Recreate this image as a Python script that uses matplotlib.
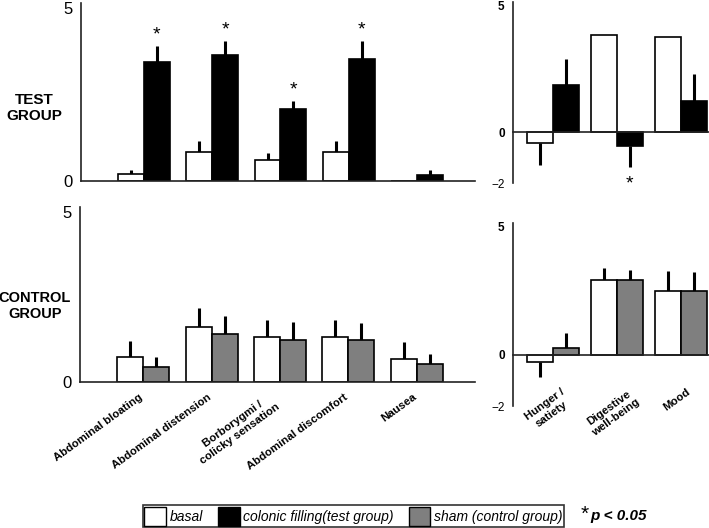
import numpy as np
import matplotlib
matplotlib.use('Agg')
import matplotlib.pyplot as plt
from matplotlib.patches import Patch

plt.rcParams['font.family'] = ['Liberation Sans', 'DejaVu Sans']

# symptom categories (left panels) and wellbeing items (right panels)
symptoms = ['Abdominal bloating', 'Abdominal distension', 'Borborygmi /\ncolicky sensation',
            'Abdominal discomfort', 'Nausea']
feelings = ['Hunger /\nsatiety', 'Digestive\nwell-being', 'Mood']

# test group
test_basal = [0.20, 0.85, 0.62, 0.85, 0.0]
test_basal_err = [0.12, 0.31, 0.18, 0.31, 0.0]
test_filling = [3.45, 3.65, 2.08, 3.52, 0.17]
test_filling_err = [0.46, 0.40, 0.23, 0.52, 0.15]
test_sig = [True, True, True, True, False]

test_feel_basal = [-0.44, 3.85, 3.77]
test_feel_basal_err = [0.86, 0.0, 0.0]
test_feel_filling = [1.85, -0.55, 1.25]
test_feel_filling_err = [1.02, 0.82, 1.05]
test_feel_sig = [False, True, False]

# control group
ctrl_basal = [0.72, 1.62, 1.31, 1.31, 0.66]
ctrl_basal_err = [0.48, 0.54, 0.52, 0.52, 0.52]
ctrl_sham = [0.43, 1.41, 1.23, 1.23, 0.51]
ctrl_sham_err = [0.29, 0.53, 0.53, 0.50, 0.31]

ctrl_feel_basal = [-0.29, 2.93, 2.51]
ctrl_feel_basal_err = [0.58, 0.46, 0.77]
ctrl_feel_sham = [0.29, 2.93, 2.51]
ctrl_feel_sham_err = [0.56, 0.39, 0.74]

GRAY = '#7f7f7f'
W, H = 709, 528
fig = plt.figure(figsize=(W / 100, H / 100), dpi=100)


def px_axes(l, t, r, b):
    return fig.add_axes([l / W, 1 - b / H, (r - l) / W, (b - t) / H])


def style(ax, ymin, xlim, right=False):
    ax.set_ylim(ymin, 5.15)
    ax.set_xlim(*xlim)
    for s in ['top', 'right']:
        ax.spines[s].set_visible(False)
    ax.spines['left'].set_linewidth(1.2)
    ax.spines['left'].set_color('#222222')
    ax.spines['bottom'].set_linewidth(1.2)
    ax.spines['bottom'].set_color('#222222')
    ax.spines['bottom'].set_position(('data', 0))
    ax.set_xticks([])
    if right:
        ax.set_yticks([-2, 0, 5])
        ax.tick_params(axis='y', length=0, pad=6, labelsize=8.5)
        labs = ax.get_yticklabels()
        labs[1].set_fontweight('bold')
        labs[2].set_fontweight('bold')
    else:
        ax.set_yticks([0, 5])
        ax.tick_params(axis='y', length=0, pad=6, labelsize=12)


def pair(ax, v1, e1, v2, e2, c2, w, sig=None):
    x = np.arange(len(v1))
    ax.bar(x - w / 2, v1, w, color='white', edgecolor='black', linewidth=1.2, zorder=2)
    ax.bar(x + w / 2, v2, w, color=c2, edgecolor='black', linewidth=1.2, zorder=2)
    for xs, vals, errs in [(x - w / 2, v1, e1), (x + w / 2, v2, e2)]:
        for xi, v, e in zip(xs, vals, errs):
            if e > 0:
                d = 1 if v >= 0 else -1
                ax.plot([xi, xi], [v, v + d * e], color='black', lw=2.2,
                        solid_capstyle='butt', zorder=1)
    if sig is not None:
        for xi, v, e, s in zip(x + w / 2, v2, e2, sig):
            if s:
                d = 1 if v >= 0 else -1
                ax.annotate('*', (xi, v + d * (e)), xytext=(0, 10 * d - 2),
                            textcoords='offset points', ha='center', va='center',
                            fontsize=14)


# top-left
ax1 = px_axes(81, 3, 475, 181)
style(ax1, 0, (-0.923, 4.85))
pair(ax1, test_basal, test_basal_err, test_filling, test_filling_err, 'black', 0.38, test_sig)

# top-right
ax2 = px_axes(513, 1.5, 709, 183)
style(ax2, -2, (-0.625, 2.44), right=True)
pair(ax2, test_feel_basal, test_feel_basal_err, test_feel_filling, test_feel_filling_err,
     'black', 0.406, test_feel_sig)

# bottom-left
ax3 = px_axes(80, 207, 475, 381.7)
style(ax3, 0, (-0.923, 4.85))
pair(ax3, ctrl_basal, ctrl_basal_err, ctrl_sham, ctrl_sham_err, GRAY, 0.38)
for i, lab in enumerate(symptoms):
    ax3.text(i + 0.02, -0.3, lab, rotation=36, ha='right', va='top', fontsize=8.2,
             fontweight='bold', multialignment='center', clip_on=False)

# bottom-right
ax4 = px_axes(513, 222.9, 709, 406.3)
style(ax4, -2, (-0.625, 2.44), right=True)
pair(ax4, ctrl_feel_basal, ctrl_feel_basal_err, ctrl_feel_sham, ctrl_feel_sham_err, GRAY, 0.406)
for i, lab in enumerate(feelings):
    ax4.text(i - 0.07, -1.25, lab, rotation=36, ha='center', va='top', fontsize=8.2,
             fontweight='bold', multialignment='center', clip_on=False)

# group names
fig.text(34 / W, 1 - 108 / H, 'TEST\nGROUP', ha='center', va='center', fontsize=11,
         fontweight='bold', linespacing=1.15)
fig.text(35 / W, 1 - 306 / H, 'CONTROL\nGROUP', ha='center', va='center', fontsize=10.5,
         fontweight='bold', linespacing=1.15)

# legend
handles = [Patch(facecolor='white', edgecolor='black', label='basal'),
           Patch(facecolor='black', edgecolor='black', label='colonic filling(test group)'),
           Patch(facecolor=GRAY, edgecolor='black', label='sham (control group)')]
leg = fig.legend(handles=handles, loc='lower left', bbox_to_anchor=(143 / W, 1 / H), ncol=3,
                 frameon=True, fancybox=False, edgecolor='#333333', framealpha=1,
                 prop={'style': 'italic', 'size': 10}, handlelength=1.55, handleheight=1.7,
                 handletextpad=0.25, columnspacing=1.1, borderpad=0.1, borderaxespad=0)
leg.get_frame().set_linewidth(1.2)

fig.text(581 / W, 1 - 514 / H, '*', ha='left', va='center', fontsize=15)
fig.text(590 / W, 1 - 516 / H, 'p < 0.05', ha='left', va='center', fontsize=11,
         fontweight='bold', style='italic')

fig.savefig('out.png', dpi=100)
